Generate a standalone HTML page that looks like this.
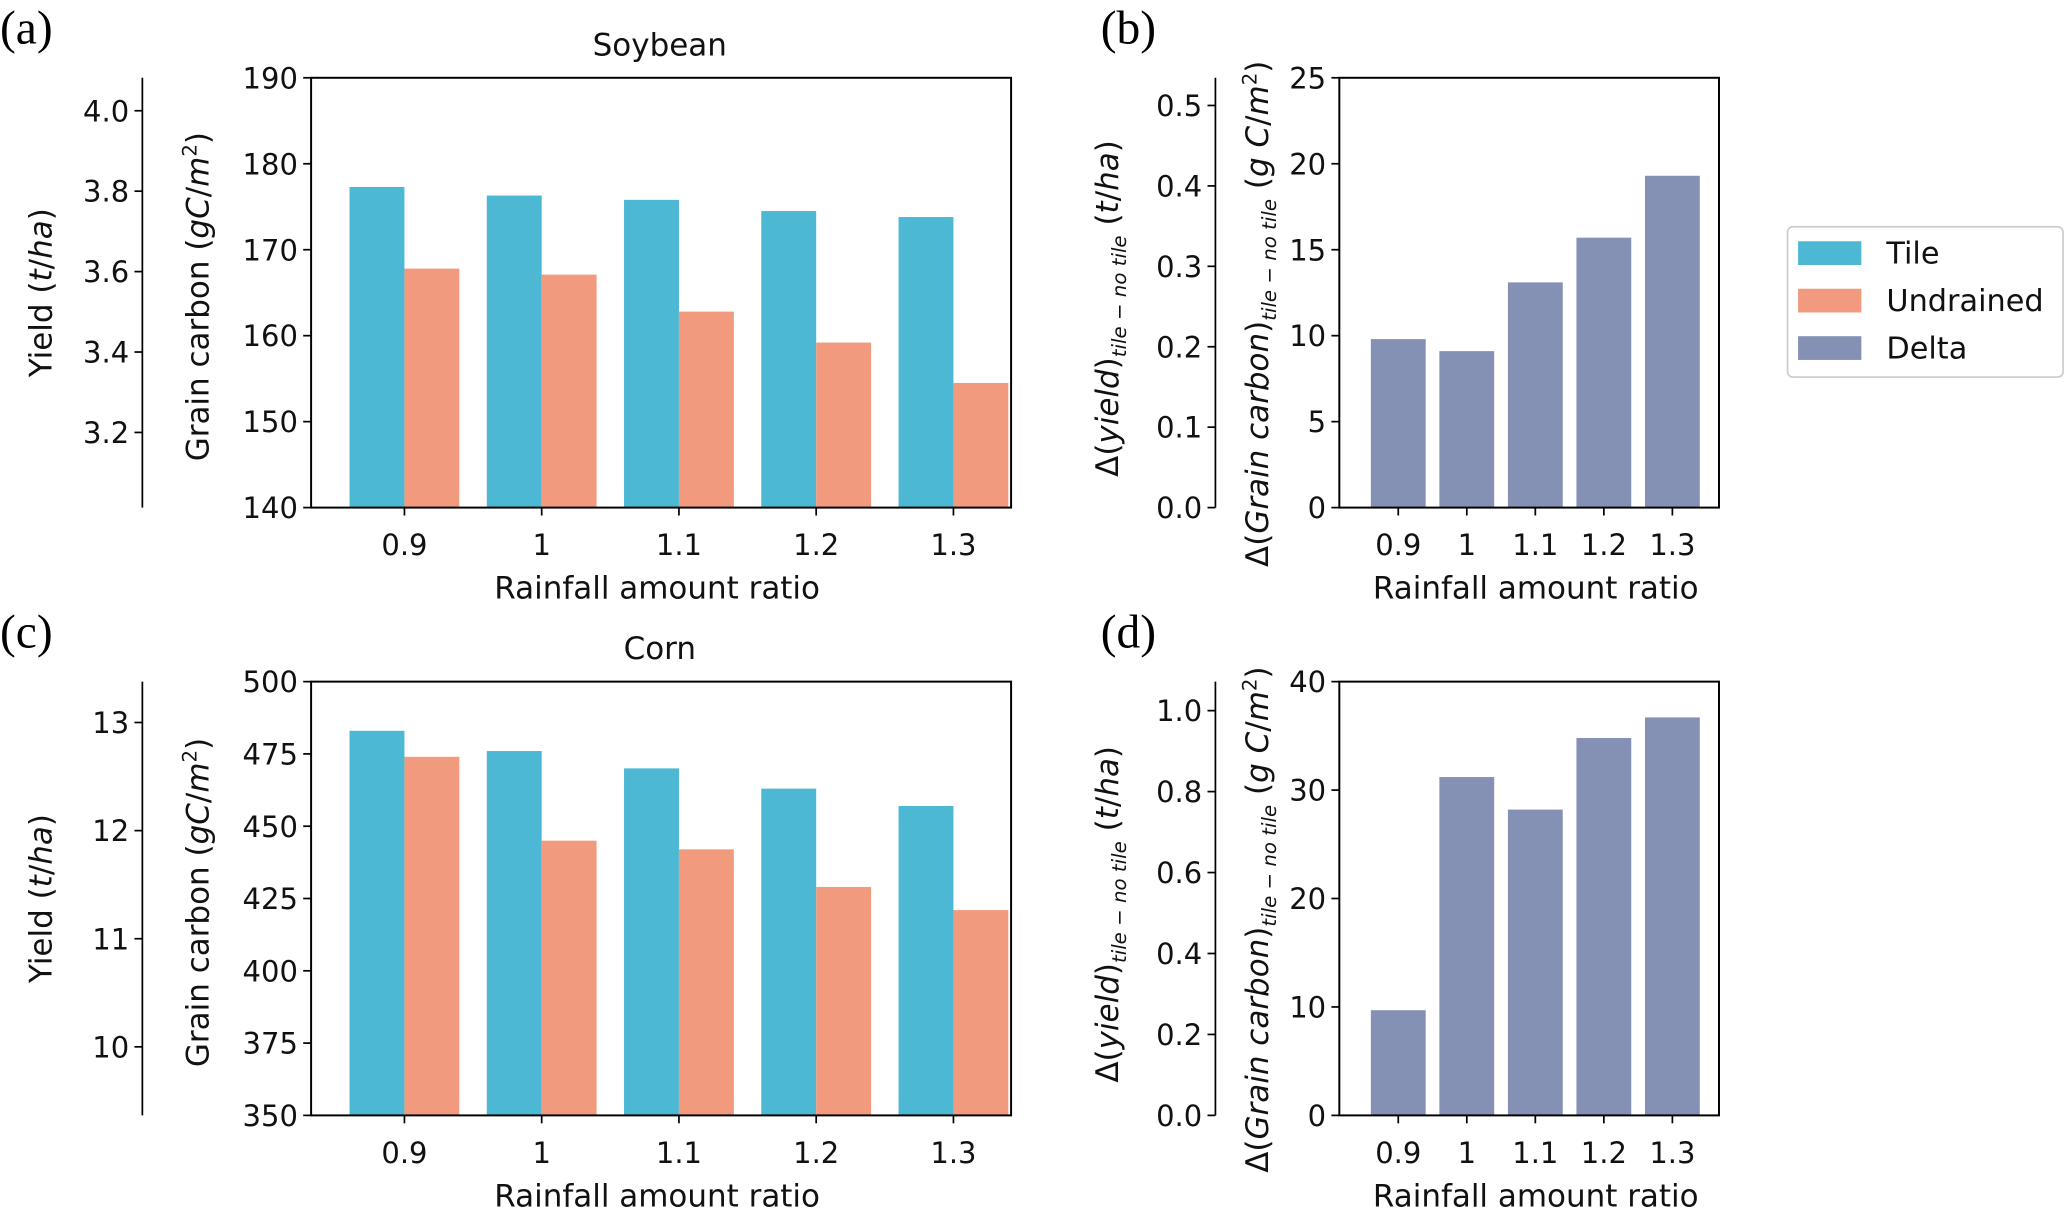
<!DOCTYPE html>
<html><head><meta charset="utf-8"><style>
html,body{margin:0;padding:0;background:#fff;}
svg{display:block;font-family:"DejaVu Sans","Liberation Sans",sans-serif;}
</style></head><body>
<svg id="fig" width="2067" height="1209" viewBox="0 0 1568 917" preserveAspectRatio="none" xmlns="http://www.w3.org/2000/svg"></svg>
<script>
const categories = ["0.9","1","1.1","1.2","1.3"];
const soyTile = [177.3,176.3,175.8,174.5,173.8];
const soyUndrained = [167.8,167.1,162.8,159.2,154.5];
const soyDelta = [9.8,9.1,13.1,15.7,19.3];
const cornTile = [483,476,470,463,457];
const cornUndrained = [474,445,442,429,421];
const cornDelta = [9.7,31.2,28.2,34.8,36.7];
const soyCarbonTicks = [140,150,160,170,180,190];
const soyYieldTicks = [3.2,3.4,3.6,3.8,4.0];
const soyDeltaTicks = [0,5,10,15,20,25];
const soyDeltaYieldTicks = [0.0,0.1,0.2,0.3,0.4,0.5];
const cornCarbonTicks = [350,375,400,425,450,475,500];
const cornYieldTicks = [10,11,12,13];
const cornDeltaTicks = [0,10,20,30,40];
const cornDeltaYieldTicks = [0.0,0.2,0.4,0.6,0.8,1.0];

const svg = document.getElementById('fig');
const NS = "http://www.w3.org/2000/svg";
const TILE="#4cb8d4", UND="#f29a7e", DELTA="#8591b4";
const TF=22, AF=23.5;
function el(tag, attrs, parent){const e=document.createElementNS(NS,tag);for(const k in attrs)e.setAttribute(k,attrs[k]);(parent||svg).appendChild(e);return e;}
function txt(s, attrs, parent){const e=el('text',attrs,parent);e.textContent=s;return e;}
function lin(d0,d1,r0,r1){return v=>r0+(v-d0)*(r1-r0)/(d1-d0);}

function yAxisTicks(g, x, ticks, y, fmt){
  ticks.forEach(t=>{
    const yy=y(t);
    el('line',{x1:x-6,y1:yy,x2:x,y2:yy,stroke:'#000','stroke-width':1.3},g);
    const l=txt(fmt(t),{x:x-10,y:yy+8,'font-size':TF,'text-anchor':'end',fill:'#111'},g);
    
    
  });
}
function frame(g,x0,x1,y0,y1){
  el('rect',{x:x0,y:y0,width:x1-x0,height:y1-y0,fill:'none',stroke:'#000','stroke-width':1.5},g);
}
function xTicks(g, xc, yb){
  categories.forEach((c,i)=>{
    const x=xc(i);
    el('line',{x1:x,y1:yb,x2:x,y2:yb+6,stroke:'#000','stroke-width':1.3},g);
    const l=txt(c,{x:x,y:yb+36,'font-size':TF,'text-anchor':'middle',fill:'#111'},g);
    
    
  });
}
function vlabel(g,s,x,y,name,html){
  const t=el('text',{x:0,y:0,'font-size':AF,'text-anchor':'middle',fill:'#111',transform:`translate(${x},${y}) rotate(-90)`},g);
  t.innerHTML=html||s;
  
  
}

function groupedPanel(name, top, bot, dmin, dmax, tile, und, cTicks, yTicks, ymap, title, panelLetter){
  const g=el('g',{});
  
  
  const x0=236,x1=767;
  const xc=lin(-0.68,4.42,x0,x1);
  const y=lin(dmin,dmax,bot,top);
  const bw=0.4*(xc(1)-xc(0));
  categories.forEach((c,i)=>{
    const r1=el('rect',{x:xc(i)-bw,y:y(tile[i]),width:bw,height:bot-y(tile[i]),fill:TILE},g);
    
    
    const r2=el('rect',{x:xc(i),y:y(und[i]),width:bw,height:bot-y(und[i]),fill:UND},g);
    
    
  });
  frame(g,x0,x1,top,bot);
  yAxisTicks(g,x0,cTicks,y,v=>String(v));
  xTicks(g,xc,bot);
  el('line',{x1:108,y1:top,x2:108,y2:bot,stroke:'#000','stroke-width':1.3},g);
  yAxisTicks(g,108,yTicks,ymap,ymap.fmt);
  vlabel(g,'',158,(top+bot)/2+3,'grain-carbon-axis-title','Grain carbon (<tspan font-style="italic">gC</tspan>/<tspan font-style="italic">m</tspan><tspan font-size="15" dy="-9">2</tspan><tspan dy="9">)</tspan>');
  vlabel(g,'',39,(top+bot)/2,'yield-axis-title','Yield (<tspan font-style="italic">t</tspan>/<tspan font-style="italic">ha</tspan>)');
  const tt=txt(title,{x:(x0+x1)/2-1,y:top-17,'font-size':AF,'text-anchor':'middle',fill:'#111'},g);
  
  
  const xl=txt('Rainfall amount ratio',{x:(x0+x1)/2-3,y:bot+69,'font-size':AF,'text-anchor':'middle',fill:'#111'},g);
  
  
  const pl=txt(panelLetter,{x:0,y:top-26,'font-size':36,'font-family':'Liberation Serif, serif',fill:'#000'},g);
  
  
}

function deltaPanel(name, top, bot, dmax, vals, cTicks, yTicks, ymap, panelLetter){
  const g=el('g',{});
  
  
  const x0=1016,x1=1304;
  const xc=lin(-0.86,4.68,x0,x1);
  const y=lin(0,dmax,bot,top);
  const bw=0.8*(xc(1)-xc(0));
  categories.forEach((c,i)=>{
    const r=el('rect',{x:xc(i)-bw/2,y:y(vals[i]),width:bw,height:bot-y(vals[i]),fill:DELTA},g);
    
    
  });
  frame(g,x0,x1,top,bot);
  yAxisTicks(g,x0,cTicks,y,v=>String(v));
  xTicks(g,xc,bot);
  el('line',{x1:922,y1:top,x2:922,y2:bot,stroke:'#000','stroke-width':1.3},g);
  yAxisTicks(g,922,yTicks,ymap,v=>v.toFixed(1));
  vlabel(g,'',962,(top+bot)/2+16,'delta-carbon-axis-title','Δ(<tspan font-style="italic">Grain carbon</tspan>)<tspan font-size="15" dy="6" font-style="italic">tile − no tile</tspan><tspan dy="-6"> (</tspan><tspan font-style="italic">g C</tspan>/<tspan font-style="italic">m</tspan><tspan font-size="15" dy="-9">2</tspan><tspan dy="9">)</tspan>');
  vlabel(g,'',848,(top+bot)/2+12,'delta-yield-axis-title','Δ(<tspan font-style="italic">yield</tspan>)<tspan font-size="15" dy="6" font-style="italic">tile − no tile</tspan><tspan dy="-6"> (</tspan><tspan font-style="italic">t</tspan>/<tspan font-style="italic">ha</tspan>)');
  const xl=txt('Rainfall amount ratio',{x:(x0+x1)/2+5,y:bot+69,'font-size':AF,'text-anchor':'middle',fill:'#111'},g);
  
  
  const pl=txt(panelLetter,{x:835,y:top-26,'font-size':36,'font-family':'Liberation Serif, serif',fill:'#000'},g);
  
  
}

const soyY=lin(3.2,4.0,328,84); soyY.fmt=v=>v.toFixed(1);
groupedPanel('panel-a-soybean',59,385,140,190,soyTile,soyUndrained,soyCarbonTicks,soyYieldTicks,soyY,'Soybean','(a)');
const cornY=lin(10,13,794,548); cornY.fmt=v=>String(v);
groupedPanel('panel-c-corn',517,846,350,500,cornTile,cornUndrained,cornCarbonTicks,cornYieldTicks,cornY,'Corn','(c)');
deltaPanel('panel-b-soy-delta',59,385,25,soyDelta,soyDeltaTicks,soyDeltaYieldTicks,lin(0,0.5,385,80),'(b)');
deltaPanel('panel-d-corn-delta',517,846,40,cornDelta,cornDeltaTicks,cornDeltaYieldTicks,lin(0,1.0,846,539),'(d)');

const lg=el('g',{});


el('rect',{x:1356,y:172,width:209,height:114,rx:4,fill:'#fff',stroke:'#ccc','stroke-width':1.3},lg);
const legendLabels=["Tile","Undrained","Delta"];
const legendColors=[TILE,UND,DELTA];
legendLabels.forEach((s,i)=>{
  const yy=192+36*i;
  const r=el('rect',{x:1364,y:yy-9,width:48,height:18,fill:legendColors[i]},lg);
  
  
  const t=txt(s,{x:1431,y:yy+8,'font-size':23,fill:'#111'},lg);
  
  
});
</script>
</body></html>
